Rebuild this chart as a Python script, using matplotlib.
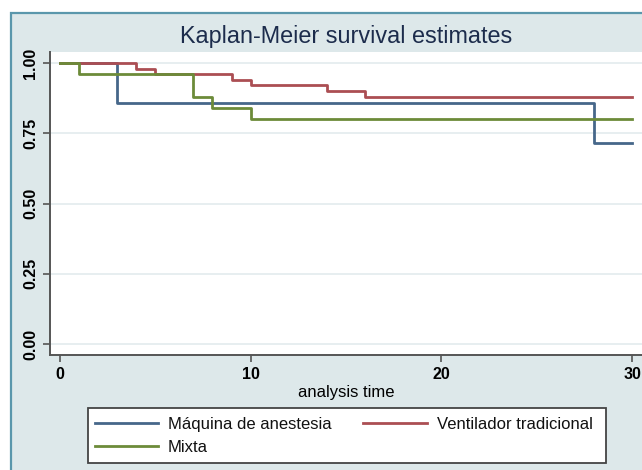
import matplotlib
matplotlib.use("Agg")
import matplotlib.pyplot as plt
from matplotlib.patches import Rectangle

plt.rcParams['font.family'] = ['Liberation Sans', 'DejaVu Sans']

# Data
times_maquina = [0, 3, 28, 30]
surv_maquina = [1.0, 0.857, 0.714, 0.714]

times_ventilador = [0, 4, 5, 9, 10, 14, 16, 30]
surv_ventilador = [1.0, 0.98, 0.96, 0.94, 0.92, 0.90, 0.88, 0.88]

times_mixta = [0, 1, 7, 8, 10, 30]
surv_mixta = [1.0, 0.96, 0.88, 0.84, 0.80, 0.80]

x_ticks = [0, 10, 20, 30]
y_ticks = [0.0, 0.25, 0.50, 0.75, 1.00]
y_ticklabels = ["0.00", "0.25", "0.50", "0.75", "1.00"]

W, H = 642, 470
fig = plt.figure(figsize=(W / 100, H / 100), dpi=100)
fig.patch.set_facecolor('white')

# Stata-style outer background band
bg = Rectangle((11 / W, -0.02), 1.2, (H - 13) / H + 0.02, transform=fig.transFigure,
               facecolor='#dde8ea', edgecolor='#5a97ac', linewidth=1.6, zorder=-10)
fig.patches.append(bg)

# legend box
legbox = Rectangle((88 / W, 1 - 463 / H), (606 - 88) / W, 55 / H, transform=fig.transFigure,
                   facecolor='white', edgecolor='#444444', linewidth=1.3, zorder=-5)
fig.patches.append(legbox)

ax = fig.add_axes([50 / W, (H - 355) / H, (W - 50) / W, (355 - 52) / H])
ax.set_facecolor('white')

c_maq = '#46678a'
c_ven = '#ab4e53'
c_mix = '#6c8b39'

l1, = ax.step(times_maquina, surv_maquina, where='post', color=c_maq, linewidth=2)
l2, = ax.step(times_ventilador, surv_ventilador, where='post', color=c_ven, linewidth=2)
l3, = ax.step(times_mixta, surv_mixta, where='post', color=c_mix, linewidth=2)

ax.set_xlim(-0.52, 30.52)
ax.set_ylim(-0.039, 1.039)
ax.set_xticks(x_ticks)
ax.set_yticks(y_ticks)
ax.set_yticklabels(y_ticklabels, rotation=90, va='center')
ax.tick_params(axis='both', labelsize=11.5, color='#555555', length=5, width=1.2)
for lab in ax.get_xticklabels() + ax.get_yticklabels():
    lab.set_fontweight('bold')
ax.grid(axis='y', color='#e3ebed', linewidth=1.2)
ax.set_axisbelow(True)

for side in ['top', 'right']:
    ax.spines[side].set_visible(False)
for side in ['left', 'bottom']:
    ax.spines[side].set_color('#555555')
    ax.spines[side].set_linewidth(1.4)

fig.text(346 / W, 1 - 37 / H, "Kaplan-Meier survival estimates", ha='center', va='center',
         fontsize=16.8, color='#1c2c4c')
fig.text(346 / W, 1 - 392 / H, "analysis time", ha='center', va='center', fontsize=12)

leg = fig.legend([l1, l3, l2], ["Máquina de anestesia", "Mixta", "Ventilador tradicional"],
                 loc='center left', bbox_to_anchor=(88 / W, 1 - 436 / H),
                 ncol=2, fontsize=12, handlelength=3.8, handletextpad=0.6,
                 columnspacing=1.9, borderpad=0.4, labelspacing=0.45,
                 frameon=False, borderaxespad=0)
for t in leg.get_texts():
    t.set_color('#111111')

fig.savefig("out.png", dpi=100)
